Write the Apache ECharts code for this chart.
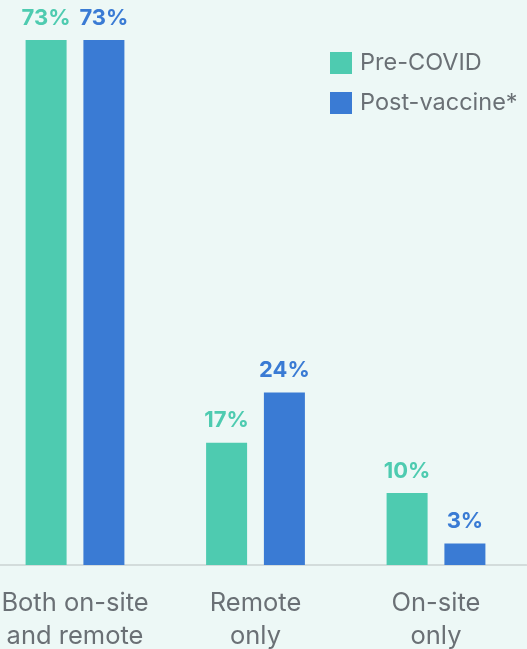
<!DOCTYPE html>
<html>
<head>
<meta charset="utf-8">
<script src="https://cdn.jsdelivr.net/npm/echarts@6/dist/echarts.min.js"></script>
<style>
html,body{margin:0;padding:0;background:#EDF8F6;}
#chart{width:527px;height:649px;}
</style>
</head>
<body>
<div id="chart"></div>
<script>
const categories = ['Both on-site\nand remote', 'Remote\nonly', 'On-site\nonly'];
const preCovid = [73, 17, 10];
const postVaccine = [73, 24, 3];
const seriesNames = ['Pre-COVID', 'Post-vaccine*'];

const TEAL = '#4ECBB0';
const BLUE = '#3A7BD4';
const GRAY = '#6A7075';
const FONT = 'Inter';

const chart = echarts.init(document.getElementById('chart'));
function lbl(color) {
  return {
    show: true, position: 'top', distance: 11,
    formatter: '{c}%', color: color,
    fontFamily: FONT, fontWeight: 'bold', fontSize: 22
  };
}
chart.setOption({
  backgroundColor: '#EDF8F6',
  animation: false,
  legend: {
    orient: 'vertical', left: 330, top: 51, padding: 0,
    itemWidth: 22, itemHeight: 22, itemGap: 16, icon: 'rect',
    textStyle: { color: GRAY, fontFamily: FONT, fontSize: 23.5, padding: [0,0,0,3] },
    data: seriesNames
  },
  grid: { left: -15.25, right: 0.75, top: 40, bottom: 84, containLabel: false, outerBoundsMode: 'none' },
  xAxis: {
    type: 'category', data: categories,
    axisLine: { lineStyle: { color: '#D3DCDB', width: 2 } },
    axisTick: { show: false },
    axisLabel: { interval: 0, color: GRAY, fontFamily: FONT, fontSize: 25.5, lineHeight: 33, margin: 22 }
  },
  yAxis: { type: 'value', min: 0, max: 73, show: false, splitLine: { show: false } },
  series: [
    { name: seriesNames[0], type: 'bar', data: preCovid, barWidth: 41, barGap: '41%',
      itemStyle: { color: TEAL }, label: lbl(TEAL) },
    { name: seriesNames[1], type: 'bar', data: postVaccine, barWidth: 41,
      itemStyle: { color: BLUE }, label: lbl(BLUE) }
  ]
});
</script>
</body>
</html>
